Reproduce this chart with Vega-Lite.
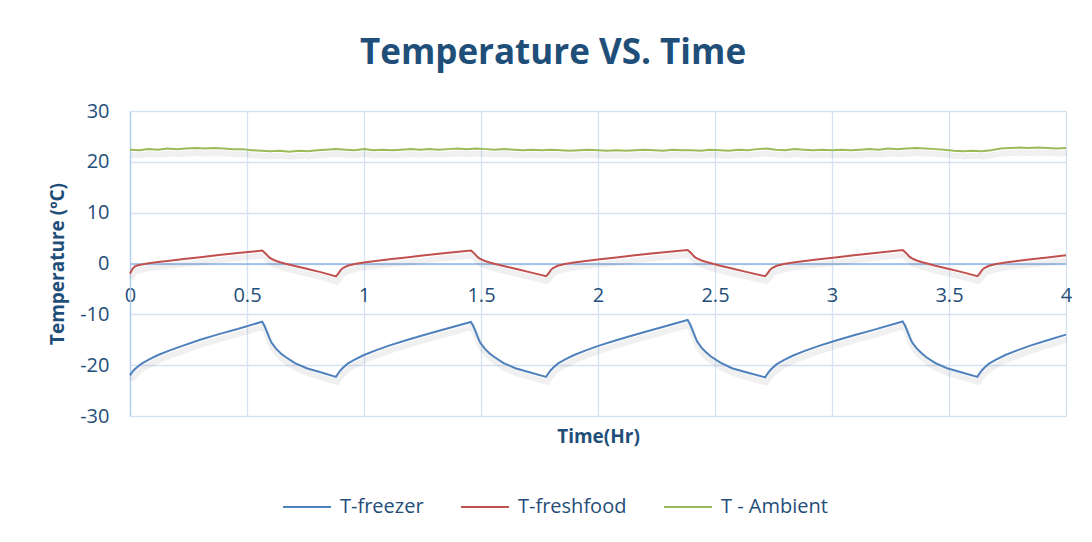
{
  "$schema": "https://vega.github.io/schema/vega-lite/v6.json",
  "width": 936,
  "height": 305,
  "autosize": "none",
  "padding": {"left": 130, "top": 111, "right": 26, "bottom": 126},
  "background": "white",
  "title": {
    "text": "Temperature VS. Time",
    "font": "Open Sans",
    "fontSize": 35,
    "fontWeight": "bold",
    "color": "#1F4E79",
    "anchor": "middle",
    "dx": -45,
    "offset": 30
  },
  "datasets": {
    "cycle": [
      {"t": 0, "T-freezer": -22.0, "T-freshfood": -2.0},
      {"t": 0.01, "T-freezer": -21.3, "T-freshfood": -1.1},
      {"t": 0.02, "T-freezer": -20.8, "T-freshfood": -0.6},
      {"t": 0.03, "T-freezer": -20.4, "T-freshfood": -0.4},
      {"t": 0.05, "T-freezer": -19.7, "T-freshfood": -0.2},
      {"t": 0.08, "T-freezer": -18.9, "T-freshfood": 0.05},
      {"t": 0.12, "T-freezer": -18.0, "T-freshfood": 0.3},
      {"t": 0.17, "T-freezer": -17.1, "T-freshfood": 0.55},
      {"t": 0.23, "T-freezer": -16.1, "T-freshfood": 0.9},
      {"t": 0.3, "T-freezer": -15.0, "T-freshfood": 1.25},
      {"t": 0.38, "T-freezer": -13.9, "T-freshfood": 1.65},
      {"t": 0.46, "T-freezer": -12.9, "T-freshfood": 2.05},
      {"t": 0.565, "T-freezer": -11.45, "T-freshfood": 2.55},
      {"t": 0.575, "T-freezer": -12.3, "T-freshfood": 2.15},
      {"t": 0.585, "T-freezer": -13.4, "T-freshfood": 1.7},
      {"t": 0.595, "T-freezer": -14.6, "T-freshfood": 1.2},
      {"t": 0.605, "T-freezer": -15.6, "T-freshfood": 0.9},
      {"t": 0.625, "T-freezer": -16.8, "T-freshfood": 0.5},
      {"t": 0.645, "T-freezer": -17.7, "T-freshfood": 0.2},
      {"t": 0.665, "T-freezer": -18.4, "T-freshfood": -0.05},
      {"t": 0.705, "T-freezer": -19.6, "T-freshfood": -0.5},
      {"t": 0.755, "T-freezer": -20.6, "T-freshfood": -1.05},
      {"t": 0.815, "T-freezer": -21.4, "T-freshfood": -1.7},
      {"t": 0.88, "T-freezer": -22.3, "T-freshfood": -2.55},
      {"t": 0.89, "T-freezer": -21.6, "T-freshfood": -2.0},
      {"t": 0.9, "T-freezer": -21.0, "T-freshfood": -1.3},
      {"t": 0.91, "T-freezer": -20.5, "T-freshfood": -0.9},
      {"t": 0.93, "T-freezer": -19.7, "T-freshfood": -0.45},
      {"t": 0.96, "T-freezer": -18.9, "T-freshfood": -0.1},
      {"t": 1.0, "T-freezer": -18.0, "T-freshfood": 0.2},
      {"t": 1.05, "T-freezer": -17.1, "T-freshfood": 0.5},
      {"t": 1.11, "T-freezer": -16.1, "T-freshfood": 0.85},
      {"t": 1.18, "T-freezer": -15.1, "T-freshfood": 1.2},
      {"t": 1.26, "T-freezer": -14.0, "T-freshfood": 1.6},
      {"t": 1.34, "T-freezer": -13.0, "T-freshfood": 2.0},
      {"t": 1.457, "T-freezer": -11.5, "T-freshfood": 2.55},
      {"t": 1.467, "T-freezer": -12.3, "T-freshfood": 2.15},
      {"t": 1.477, "T-freezer": -13.4, "T-freshfood": 1.7},
      {"t": 1.487, "T-freezer": -14.6, "T-freshfood": 1.2},
      {"t": 1.497, "T-freezer": -15.6, "T-freshfood": 0.9},
      {"t": 1.517, "T-freezer": -16.8, "T-freshfood": 0.5},
      {"t": 1.537, "T-freezer": -17.7, "T-freshfood": 0.2},
      {"t": 1.557, "T-freezer": -18.4, "T-freshfood": -0.05},
      {"t": 1.597, "T-freezer": -19.6, "T-freshfood": -0.5},
      {"t": 1.647, "T-freezer": -20.6, "T-freshfood": -1.05},
      {"t": 1.707, "T-freezer": -21.4, "T-freshfood": -1.7},
      {"t": 1.778, "T-freezer": -22.3, "T-freshfood": -2.5},
      {"t": 1.788, "T-freezer": -21.6, "T-freshfood": -2.0},
      {"t": 1.798, "T-freezer": -21.0, "T-freshfood": -1.3},
      {"t": 1.808, "T-freezer": -20.5, "T-freshfood": -0.9},
      {"t": 1.828, "T-freezer": -19.7, "T-freshfood": -0.45},
      {"t": 1.858, "T-freezer": -18.9, "T-freshfood": -0.1},
      {"t": 1.898, "T-freezer": -18.0, "T-freshfood": 0.2},
      {"t": 1.948, "T-freezer": -17.1, "T-freshfood": 0.5},
      {"t": 2.008, "T-freezer": -16.1, "T-freshfood": 0.85},
      {"t": 2.078, "T-freezer": -15.1, "T-freshfood": 1.2},
      {"t": 2.158, "T-freezer": -14.0, "T-freshfood": 1.6},
      {"t": 2.238, "T-freezer": -13.0, "T-freshfood": 2.0},
      {"t": 2.383, "T-freezer": -11.1, "T-freshfood": 2.65},
      {"t": 2.393, "T-freezer": -11.9, "T-freshfood": 2.25},
      {"t": 2.403, "T-freezer": -13.0, "T-freshfood": 1.8},
      {"t": 2.413, "T-freezer": -14.2, "T-freshfood": 1.3},
      {"t": 2.423, "T-freezer": -15.3, "T-freshfood": 1.0},
      {"t": 2.443, "T-freezer": -16.6, "T-freshfood": 0.6},
      {"t": 2.463, "T-freezer": -17.5, "T-freshfood": 0.3},
      {"t": 2.483, "T-freezer": -18.3, "T-freshfood": 0.05},
      {"t": 2.523, "T-freezer": -19.5, "T-freshfood": -0.45},
      {"t": 2.573, "T-freezer": -20.6, "T-freshfood": -1.0},
      {"t": 2.633, "T-freezer": -21.4, "T-freshfood": -1.65},
      {"t": 2.714, "T-freezer": -22.4, "T-freshfood": -2.5},
      {"t": 2.724, "T-freezer": -21.7, "T-freshfood": -2.0},
      {"t": 2.734, "T-freezer": -21.1, "T-freshfood": -1.3},
      {"t": 2.744, "T-freezer": -20.6, "T-freshfood": -0.9},
      {"t": 2.764, "T-freezer": -19.8, "T-freshfood": -0.45},
      {"t": 2.794, "T-freezer": -19.0, "T-freshfood": -0.1},
      {"t": 2.834, "T-freezer": -18.1, "T-freshfood": 0.2},
      {"t": 2.884, "T-freezer": -17.2, "T-freshfood": 0.5},
      {"t": 2.944, "T-freezer": -16.2, "T-freshfood": 0.85},
      {"t": 3.014, "T-freezer": -15.2, "T-freshfood": 1.2},
      {"t": 3.094, "T-freezer": -14.1, "T-freshfood": 1.6},
      {"t": 3.174, "T-freezer": -13.1, "T-freshfood": 2.0},
      {"t": 3.302, "T-freezer": -11.4, "T-freshfood": 2.65},
      {"t": 3.312, "T-freezer": -12.2, "T-freshfood": 2.25},
      {"t": 3.322, "T-freezer": -13.3, "T-freshfood": 1.8},
      {"t": 3.332, "T-freezer": -14.5, "T-freshfood": 1.3},
      {"t": 3.342, "T-freezer": -15.5, "T-freshfood": 1.0},
      {"t": 3.362, "T-freezer": -16.7, "T-freshfood": 0.6},
      {"t": 3.382, "T-freezer": -17.6, "T-freshfood": 0.3},
      {"t": 3.402, "T-freezer": -18.4, "T-freshfood": 0.05},
      {"t": 3.442, "T-freezer": -19.6, "T-freshfood": -0.45},
      {"t": 3.492, "T-freezer": -20.6, "T-freshfood": -1.0},
      {"t": 3.552, "T-freezer": -21.4, "T-freshfood": -1.65},
      {"t": 3.621, "T-freezer": -22.3, "T-freshfood": -2.5},
      {"t": 3.631, "T-freezer": -21.6, "T-freshfood": -2.0},
      {"t": 3.641, "T-freezer": -21.0, "T-freshfood": -1.3},
      {"t": 3.651, "T-freezer": -20.5, "T-freshfood": -0.9},
      {"t": 3.671, "T-freezer": -19.7, "T-freshfood": -0.45},
      {"t": 3.701, "T-freezer": -18.9, "T-freshfood": -0.1},
      {"t": 3.741, "T-freezer": -18.0, "T-freshfood": 0.2},
      {"t": 3.791, "T-freezer": -17.1, "T-freshfood": 0.5},
      {"t": 3.851, "T-freezer": -16.1, "T-freshfood": 0.85},
      {"t": 3.921, "T-freezer": -15.1, "T-freshfood": 1.2},
      {"t": 4.0, "T-freezer": -14.0, "T-freshfood": 1.6}
    ],
    "ambient": [
      {"t": 0.00, "T - Ambient": 22.4}, {"t": 0.04, "T - Ambient": 22.3},
      {"t": 0.08, "T - Ambient": 22.5}, {"t": 0.12, "T - Ambient": 22.4},
      {"t": 0.16, "T - Ambient": 22.6}, {"t": 0.20, "T - Ambient": 22.5},
      {"t": 0.24, "T - Ambient": 22.6}, {"t": 0.28, "T - Ambient": 22.7},
      {"t": 0.32, "T - Ambient": 22.6}, {"t": 0.36, "T - Ambient": 22.7},
      {"t": 0.40, "T - Ambient": 22.6}, {"t": 0.44, "T - Ambient": 22.5},
      {"t": 0.48, "T - Ambient": 22.5}, {"t": 0.52, "T - Ambient": 22.3},
      {"t": 0.56, "T - Ambient": 22.2}, {"t": 0.60, "T - Ambient": 22.1},
      {"t": 0.64, "T - Ambient": 22.2}, {"t": 0.68, "T - Ambient": 22.0},
      {"t": 0.72, "T - Ambient": 22.2}, {"t": 0.76, "T - Ambient": 22.1},
      {"t": 0.80, "T - Ambient": 22.3}, {"t": 0.84, "T - Ambient": 22.4},
      {"t": 0.88, "T - Ambient": 22.5}, {"t": 0.92, "T - Ambient": 22.4},
      {"t": 0.96, "T - Ambient": 22.3}, {"t": 1.00, "T - Ambient": 22.5},
      {"t": 1.04, "T - Ambient": 22.3}, {"t": 1.08, "T - Ambient": 22.4},
      {"t": 1.12, "T - Ambient": 22.3}, {"t": 1.16, "T - Ambient": 22.4},
      {"t": 1.20, "T - Ambient": 22.5}, {"t": 1.24, "T - Ambient": 22.4},
      {"t": 1.28, "T - Ambient": 22.5}, {"t": 1.32, "T - Ambient": 22.4},
      {"t": 1.36, "T - Ambient": 22.5}, {"t": 1.40, "T - Ambient": 22.6},
      {"t": 1.44, "T - Ambient": 22.5}, {"t": 1.48, "T - Ambient": 22.6},
      {"t": 1.52, "T - Ambient": 22.5}, {"t": 1.56, "T - Ambient": 22.4},
      {"t": 1.60, "T - Ambient": 22.5}, {"t": 1.64, "T - Ambient": 22.4},
      {"t": 1.68, "T - Ambient": 22.3}, {"t": 1.72, "T - Ambient": 22.4},
      {"t": 1.76, "T - Ambient": 22.3}, {"t": 1.80, "T - Ambient": 22.4},
      {"t": 1.84, "T - Ambient": 22.3}, {"t": 1.88, "T - Ambient": 22.2},
      {"t": 1.92, "T - Ambient": 22.3}, {"t": 1.96, "T - Ambient": 22.4},
      {"t": 2.00, "T - Ambient": 22.3}, {"t": 2.04, "T - Ambient": 22.2},
      {"t": 2.08, "T - Ambient": 22.3}, {"t": 2.12, "T - Ambient": 22.2},
      {"t": 2.16, "T - Ambient": 22.3}, {"t": 2.20, "T - Ambient": 22.4},
      {"t": 2.24, "T - Ambient": 22.3}, {"t": 2.28, "T - Ambient": 22.2},
      {"t": 2.32, "T - Ambient": 22.4}, {"t": 2.36, "T - Ambient": 22.3},
      {"t": 2.40, "T - Ambient": 22.3}, {"t": 2.44, "T - Ambient": 22.2},
      {"t": 2.48, "T - Ambient": 22.4}, {"t": 2.52, "T - Ambient": 22.3},
      {"t": 2.56, "T - Ambient": 22.2}, {"t": 2.60, "T - Ambient": 22.4},
      {"t": 2.64, "T - Ambient": 22.3}, {"t": 2.68, "T - Ambient": 22.5},
      {"t": 2.72, "T - Ambient": 22.6}, {"t": 2.76, "T - Ambient": 22.4},
      {"t": 2.80, "T - Ambient": 22.3}, {"t": 2.84, "T - Ambient": 22.5},
      {"t": 2.88, "T - Ambient": 22.4}, {"t": 2.92, "T - Ambient": 22.3},
      {"t": 2.96, "T - Ambient": 22.4}, {"t": 3.00, "T - Ambient": 22.3},
      {"t": 3.04, "T - Ambient": 22.4}, {"t": 3.08, "T - Ambient": 22.3},
      {"t": 3.12, "T - Ambient": 22.4}, {"t": 3.16, "T - Ambient": 22.5},
      {"t": 3.20, "T - Ambient": 22.4}, {"t": 3.24, "T - Ambient": 22.6},
      {"t": 3.28, "T - Ambient": 22.5}, {"t": 3.32, "T - Ambient": 22.6},
      {"t": 3.36, "T - Ambient": 22.7}, {"t": 3.40, "T - Ambient": 22.6},
      {"t": 3.44, "T - Ambient": 22.5}, {"t": 3.48, "T - Ambient": 22.4},
      {"t": 3.52, "T - Ambient": 22.2}, {"t": 3.56, "T - Ambient": 22.1},
      {"t": 3.60, "T - Ambient": 22.2}, {"t": 3.64, "T - Ambient": 22.1},
      {"t": 3.68, "T - Ambient": 22.3}, {"t": 3.72, "T - Ambient": 22.6},
      {"t": 3.76, "T - Ambient": 22.7}, {"t": 3.80, "T - Ambient": 22.8},
      {"t": 3.84, "T - Ambient": 22.7}, {"t": 3.88, "T - Ambient": 22.8},
      {"t": 3.92, "T - Ambient": 22.7}, {"t": 3.96, "T - Ambient": 22.6},
      {"t": 4.00, "T - Ambient": 22.7}
    ]
  },
  "encoding": {
    "x": {
      "field": "t",
      "type": "quantitative",
      "scale": {"domain": [0, 4], "nice": false, "zero": false},
      "axis": {
        "title": "Time(Hr)",
        "values": [0, 0.5, 1, 1.5, 2, 2.5, 3, 3.5, 4],
        "format": "~g",
        "offset": -152.5,
        "domainColor": "#8FB4E3",
        "domainWidth": 1.5,
        "ticks": false,
        "grid": true,
        "gridColor": "#D6E2F3",
        "gridWidth": 1.3,
        "labelPadding": 22,
        "labelFont": "Open Sans",
        "labelFontSize": 20,
        "labelColor": "#1F4E79",
        "labelFlush": false,
        "labelOverlap": false,
        "labelBound": false,
        "titleFont": "Open Sans",
        "titleFontSize": 19,
        "titleFontWeight": "bold",
        "titleColor": "#1F4E79",
        "titleY": 173,
        "titleBaseline": "middle"
      }
    },
    "y": {
      "field": "v",
      "type": "quantitative",
      "scale": {"domain": [-30, 30], "nice": false},
      "axis": {
        "title": "Temperature (ºC)",
        "values": [-30, -20, -10, 0, 10, 20, 30],
        "labelExpr": "'' + datum.value",
        "domainColor": "#B4CCEC",
        "domainWidth": 1.3,
        "ticks": false,
        "grid": true,
        "gridColor": "#D6E2F3",
        "gridWidth": 1.3,
        "labelPadding": 21,
        "labelFont": "Open Sans",
        "labelFontSize": 20,
        "labelColor": "#1F4E79",
        "titleFont": "Open Sans",
        "titleFontSize": 19,
        "titleFontWeight": "bold",
        "titleColor": "#1F4E79",
        "titleX": -73,
        "titleBaseline": "middle"
      }
    }
  },
  "layer": [
    {
      "data": {"name": "cycle"},
      "transform": [{"fold": ["T-freezer", "T-freshfood"], "as": ["s", "v"]}],
      "mark": {"type": "line", "stroke": "#000000", "strokeOpacity": 0.06, "strokeWidth": 6, "yOffset": 5, "xOffset": 1},
      "encoding": {"detail": {"field": "s"}}
    },
    {
      "data": {"name": "ambient"},
      "transform": [{"fold": ["T - Ambient"], "as": ["s", "v"]}],
      "mark": {"type": "line", "stroke": "#000000", "strokeOpacity": 0.06, "strokeWidth": 6, "yOffset": 5, "xOffset": 1},
      "encoding": {"detail": {"field": "s"}}
    },
    {
      "data": {"name": "cycle"},
      "transform": [{"fold": ["T-freezer", "T-freshfood"], "as": ["s", "v"]}],
      "mark": {"type": "line", "strokeWidth": 2},
      "encoding": {
        "color": {
          "field": "s",
          "type": "nominal",
          "scale": {
            "domain": ["T-freezer", "T-freshfood", "T - Ambient"],
            "range": ["#4F81BD", "#C0504D", "#9BBB59"]
          },
          "legend": {
            "title": null,
            "orient": "none",
            "direction": "horizontal",
            "legendX": 152,
            "legendY": 371,
            "symbolType": "stroke",
            "symbolSize": 2300,
            "symbolStrokeWidth": 2,
            "labelFont": "Open Sans",
            "labelFontSize": 20,
            "labelColor": "#1F4E79",
            "labelOffset": 8,
            "columnPadding": 33
          }
        }
      }
    },
    {
      "data": {"name": "ambient"},
      "transform": [{"fold": ["T - Ambient"], "as": ["s", "v"]}],
      "mark": {"type": "line", "strokeWidth": 2},
      "encoding": {"color": {"field": "s", "type": "nominal"}}
    }
  ],
  "config": {"view": {"stroke": null}}
}
